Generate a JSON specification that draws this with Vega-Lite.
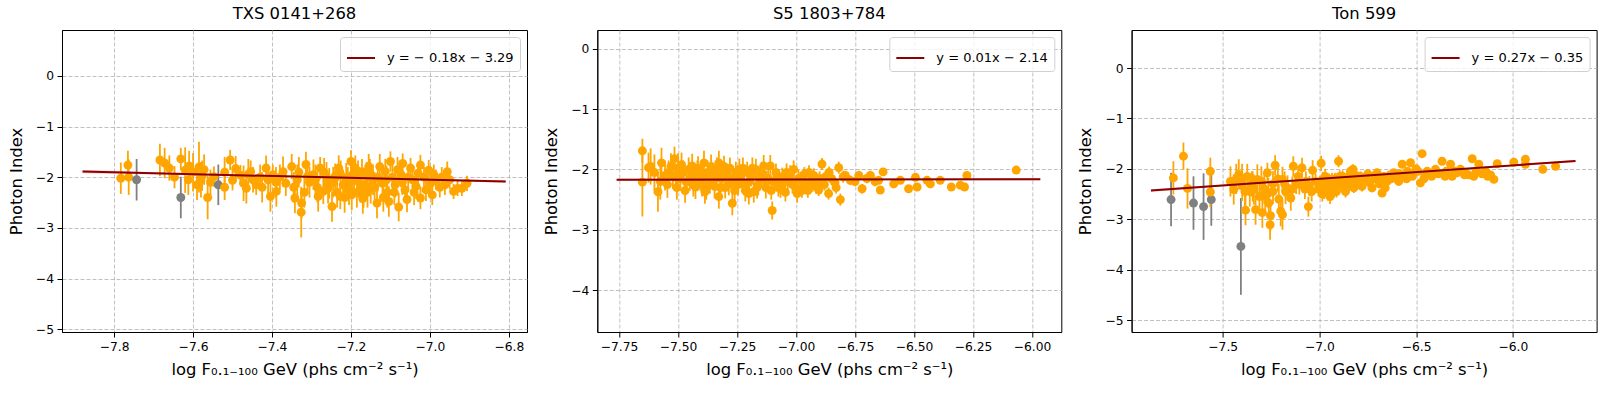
{
"$schema": "https://vega.github.io/schema/vega-lite/v6.json",
"padding": {"left": 7, "top": 5, "right": 5, "bottom": 5},
"background": "white",
"datasets": {
"p1": [
{"x":-7.783,"y":-2.02,"e":0.31,"g":"det"},{"x":-7.765,"y":-1.76,"e":0.28,"g":"det"},{"x":-7.763,"y":-2.0,"e":0.35,"g":"det"},{"x":-7.743,"y":-2.05,"e":0.41,"g":"low"},
{"x":-7.684,"y":-1.66,"e":0.32,"g":"det"},{"x":-7.672,"y":-1.72,"e":0.3,"g":"det"},{"x":-7.66,"y":-1.82,"e":0.25,"g":"det"},{"x":-7.647,"y":-2.0,"e":0.22,"g":"det"},
{"x":-7.631,"y":-1.64,"e":0.22,"g":"det"},{"x":-7.631,"y":-2.4,"e":0.41,"g":"low"},{"x":-7.62,"y":-1.86,"e":0.45,"g":"det"},{"x":-7.612,"y":-2.05,"e":0.3,"g":"det"},
{"x":-7.6,"y":-1.9,"e":0.38,"g":"det"},{"x":-7.59,"y":-2.15,"e":0.3,"g":"det"},{"x":-7.585,"y":-1.8,"e":0.5,"g":"det"},{"x":-7.577,"y":-1.97,"e":0.3,"g":"det"},
{"x":-7.572,"y":-1.85,"e":0.3,"g":"det"},{"x":-7.563,"y":-2.4,"e":0.43,"g":"det"},{"x":-7.556,"y":-2.1,"e":0.25,"g":"det"},{"x":-7.536,"y":-2.15,"e":0.4,"g":"low"},
{"x":-7.547,"y":-1.99,"e":0.2,"g":"det"},{"x":-7.52,"y":-2.2,"e":0.25,"g":"det"},{"x":-7.506,"y":-1.66,"e":0.2,"g":"det"},{"x":-7.5,"y":-2.06,"e":0.2,"g":"det"},
{"x":-7.492,"y":-1.83,"e":0.25,"g":"det"},{"x":-7.48,"y":-1.96,"e":0.2,"g":"det"},{"x":-7.472,"y":-2.12,"e":0.35,"g":"det"},{"x":-7.465,"y":-2.22,"e":0.3,"g":"det"},
{"x":-7.46,"y":-1.94,"e":0.3,"g":"det"},{"x":-7.454,"y":-1.89,"e":0.22,"g":"det"},{"x":-7.448,"y":-2.05,"e":0.25,"g":"det"},{"x":-7.44,"y":-2.15,"e":0.2,"g":"det"},
{"x":-7.415,"y":-1.82,"e":0.25,"g":"det"},{"x":-7.41,"y":-2.05,"e":0.3,"g":"det"},{"x":-7.404,"y":-2.38,"e":0.3,"g":"det"},{"x":-7.398,"y":-1.95,"e":0.2,"g":"det"},
{"x":-7.389,"y":-2.28,"e":0.3,"g":"det"},{"x":-7.38,"y":-2.0,"e":0.25,"g":"det"},{"x":-7.372,"y":-1.89,"e":0.3,"g":"det"},{"x":-7.365,"y":-2.12,"e":0.25,"g":"det"},
{"x":-7.35,"y":-1.79,"e":0.25,"g":"det"},{"x":-7.342,"y":-2.41,"e":0.3,"g":"det"},{"x":-7.336,"y":-2.05,"e":0.3,"g":"det"},{"x":-7.325,"y":-2.51,"e":0.3,"g":"det"},
{"x":-7.326,"y":-2.69,"e":0.5,"g":"det"},{"x":-7.314,"y":-1.75,"e":0.25,"g":"det"},{"x":-7.305,"y":-2.1,"e":0.3,"g":"det"},{"x":-7.295,"y":-1.95,"e":0.3,"g":"det"},
{"x":-7.285,"y":-2.2,"e":0.3,"g":"det"},{"x":-7.278,"y":-1.82,"e":0.22,"g":"det"},{"x":-7.27,"y":-2.28,"e":0.25,"g":"det"},{"x":-7.262,"y":-2.0,"e":0.3,"g":"det"},
{"x":-7.255,"y":-2.12,"e":0.3,"g":"det"},{"x":-7.248,"y":-2.58,"e":0.3,"g":"det"},{"x":-7.24,"y":-1.98,"e":0.25,"g":"det"},{"x":-7.231,"y":-1.82,"e":0.25,"g":"det"},
{"x":-7.227,"y":-2.38,"e":0.25,"g":"det"},{"x":-7.22,"y":-2.15,"e":0.3,"g":"det"},{"x":-7.212,"y":-2.02,"e":0.3,"g":"det"},{"x":-7.205,"y":-2.25,"e":0.3,"g":"det"},
{"x":-7.2,"y":-1.69,"e":0.22,"g":"det"},{"x":-7.196,"y":-1.95,"e":0.3,"g":"det"},{"x":-7.189,"y":-1.82,"e":0.25,"g":"det"},{"x":-7.185,"y":-2.3,"e":0.3,"g":"det"},
{"x":-7.18,"y":-2.1,"e":0.3,"g":"det"},{"x":-7.172,"y":-1.89,"e":0.25,"g":"det"},{"x":-7.168,"y":-2.35,"e":0.25,"g":"det"},{"x":-7.164,"y":-2.15,"e":0.3,"g":"det"},
{"x":-7.16,"y":-2.0,"e":0.3,"g":"det"},{"x":-7.155,"y":-1.79,"e":0.25,"g":"det"},{"x":-7.15,"y":-2.22,"e":0.3,"g":"det"},{"x":-7.144,"y":-2.05,"e":0.3,"g":"det"},
{"x":-7.134,"y":-2.51,"e":0.3,"g":"det"},{"x":-7.127,"y":-1.79,"e":0.25,"g":"det"},{"x":-7.12,"y":-2.12,"e":0.25,"g":"det"},{"x":-7.113,"y":-1.89,"e":0.25,"g":"det"},
{"x":-7.108,"y":-2.3,"e":0.3,"g":"det"},{"x":-7.104,"y":-2.48,"e":0.3,"g":"det"},{"x":-7.1,"y":-1.69,"e":0.2,"g":"det"},{"x":-7.095,"y":-2.0,"e":0.25,"g":"det"},
{"x":-7.088,"y":-2.15,"e":0.25,"g":"det"},{"x":-7.079,"y":-2.59,"e":0.28,"g":"det"},{"x":-7.073,"y":-1.95,"e":0.25,"g":"det"},{"x":-7.069,"y":-1.73,"e":0.2,"g":"det"},
{"x":-7.063,"y":-2.25,"e":0.25,"g":"det"},{"x":-7.058,"y":-2.44,"e":0.25,"g":"det"},{"x":-7.049,"y":-1.82,"e":0.2,"g":"det"},{"x":-7.044,"y":-2.05,"e":0.25,"g":"det"},
{"x":-7.035,"y":-2.18,"e":0.25,"g":"det"},{"x":-7.024,"y":-1.76,"e":0.2,"g":"det"},{"x":-7.024,"y":-2.41,"e":0.22,"g":"det"},{"x":-7.015,"y":-2.0,"e":0.2,"g":"det"},
{"x":-7.003,"y":-1.86,"e":0.2,"g":"det"},{"x":-6.998,"y":-2.12,"e":0.2,"g":"det"},{"x":-6.994,"y":-2.35,"e":0.2,"g":"det"},{"x":-6.985,"y":-2.05,"e":0.2,"g":"det"},
{"x":-6.975,"y":-2.2,"e":0.2,"g":"det"},{"x":-6.962,"y":-2.15,"e":0.2,"g":"det"},{"x":-6.956,"y":-1.89,"e":0.2,"g":"det"},{"x":-6.94,"y":-2.28,"e":0.15,"g":"det"},
{"x":-6.93,"y":-2.22,"e":0.15,"g":"det"},{"x":-6.919,"y":-2.22,"e":0.15,"g":"det"},{"x":-6.906,"y":-2.12,"e":0.15,"g":"det"},
{"x":-7.345,"y":-2.2,"e":0.3,"g":"det"},{"x":-7.332,"y":-1.9,"e":0.3,"g":"det"},{"x":-7.318,"y":-2.3,"e":0.3,"g":"det"},{"x":-7.31,"y":-1.98,"e":0.28,"g":"det"},
{"x":-7.29,"y":-2.05,"e":0.3,"g":"det"},{"x":-7.283,"y":-2.38,"e":0.3,"g":"det"},{"x":-7.268,"y":-1.9,"e":0.28,"g":"det"},{"x":-7.258,"y":-2.22,"e":0.3,"g":"det"},
{"x":-7.245,"y":-2.1,"e":0.3,"g":"det"},{"x":-7.235,"y":-2.3,"e":0.3,"g":"det"},{"x":-7.226,"y":-1.95,"e":0.28,"g":"det"},{"x":-7.216,"y":-2.4,"e":0.3,"g":"det"},
{"x":-7.208,"y":-2.1,"e":0.3,"g":"det"},{"x":-7.198,"y":-2.35,"e":0.3,"g":"det"},{"x":-7.192,"y":-2.05,"e":0.28,"g":"det"},{"x":-7.182,"y":-1.95,"e":0.28,"g":"det"},
{"x":-7.176,"y":-2.2,"e":0.3,"g":"det"},{"x":-7.17,"y":-2.42,"e":0.3,"g":"det"},{"x":-7.158,"y":-2.3,"e":0.3,"g":"det"},{"x":-7.152,"y":-1.92,"e":0.28,"g":"det"},
{"x":-7.14,"y":-2.2,"e":0.3,"g":"det"},{"x":-7.132,"y":-2.0,"e":0.28,"g":"det"},{"x":-7.118,"y":-2.4,"e":0.28,"g":"det"},{"x":-7.11,"y":-2.05,"e":0.28,"g":"det"},
{"x":-7.09,"y":-2.3,"e":0.25,"g":"det"},{"x":-7.082,"y":-1.85,"e":0.25,"g":"det"},{"x":-7.07,"y":-2.1,"e":0.25,"g":"det"},{"x":-7.055,"y":-2.0,"e":0.25,"g":"det"},
{"x":-7.04,"y":-2.3,"e":0.25,"g":"det"},{"x":-7.03,"y":-1.92,"e":0.22,"g":"det"},{"x":-7.01,"y":-2.25,"e":0.22,"g":"det"},{"x":-6.99,"y":-1.95,"e":0.2,"g":"det"},
{"x":-6.97,"y":-2.0,"e":0.2,"g":"det"},{"x":-6.95,"y":-2.05,"e":0.18,"g":"det"},{"x":-7.43,"y":-2.0,"e":0.25,"g":"det"},{"x":-7.425,"y":-2.2,"e":0.3,"g":"det"},
{"x":-7.39,"y":-2.1,"e":0.3,"g":"det"},{"x":-7.52,"y":-1.9,"e":0.3,"g":"det"},{"x":-7.58,"y":-2.05,"e":0.35,"g":"det"},{"x":-7.61,"y":-1.78,"e":0.3,"g":"det"}
],
"p2": [
{"x":-7.651,"y":-1.69,"e":0.2,"g":"det"},{"x":-7.651,"y":-2.21,"e":0.57,"g":"det"},{"x":-7.625,"y":-1.97,"e":0.25,"g":"det"},{"x":-7.616,"y":-1.95,"e":0.3,"g":"det"},
{"x":-7.6,"y":-2.05,"e":0.3,"g":"det"},{"x":-7.585,"y":-2.37,"e":0.33,"g":"det"},{"x":-7.575,"y":-2.2,"e":0.3,"g":"det"},{"x":-7.57,"y":-1.89,"e":0.25,"g":"det"},
{"x":-7.555,"y":-2.1,"e":0.25,"g":"det"},{"x":-7.54,"y":-2.05,"e":0.2,"g":"det"},{"x":-7.522,"y":-2.12,"e":0.2,"g":"det"},{"x":-7.515,"y":-1.82,"e":0.2,"g":"det"},
{"x":-7.51,"y":-2.1,"e":0.2,"g":"det"},{"x":-7.5,"y":-1.98,"e":0.25,"g":"det"},{"x":-7.49,"y":-2.15,"e":0.2,"g":"det"},{"x":-7.478,"y":-2.05,"e":0.2,"g":"det"},
{"x":-7.464,"y":-2.21,"e":0.2,"g":"det"},{"x":-7.455,"y":-2.0,"e":0.2,"g":"det"},{"x":-7.44,"y":-1.94,"e":0.2,"g":"det"},{"x":-7.432,"y":-2.12,"e":0.2,"g":"det"},
{"x":-7.426,"y":-2.29,"e":0.2,"g":"det"},{"x":-7.418,"y":-2.05,"e":0.2,"g":"det"},{"x":-7.405,"y":-2.15,"e":0.2,"g":"det"},{"x":-7.398,"y":-2.25,"e":0.2,"g":"det"},
{"x":-7.39,"y":-1.89,"e":0.2,"g":"det"},{"x":-7.386,"y":-2.37,"e":0.2,"g":"det"},{"x":-7.375,"y":-2.05,"e":0.2,"g":"det"},{"x":-7.365,"y":-2.2,"e":0.2,"g":"det"},
{"x":-7.355,"y":-2.1,"e":0.2,"g":"det"},{"x":-7.345,"y":-2.28,"e":0.2,"g":"det"},{"x":-7.335,"y":-2.0,"e":0.2,"g":"det"},{"x":-7.327,"y":-1.89,"e":0.2,"g":"det"},
{"x":-7.327,"y":-2.45,"e":0.2,"g":"det"},{"x":-7.318,"y":-2.15,"e":0.2,"g":"det"},{"x":-7.31,"y":-2.05,"e":0.18,"g":"det"},{"x":-7.3,"y":-2.3,"e":0.18,"g":"det"},
{"x":-7.29,"y":-2.1,"e":0.18,"g":"det"},{"x":-7.28,"y":-1.98,"e":0.18,"g":"det"},{"x":-7.27,"y":-2.56,"e":0.2,"g":"det"},{"x":-7.264,"y":-2.16,"e":0.18,"g":"det"},
{"x":-7.255,"y":-2.05,"e":0.18,"g":"det"},{"x":-7.245,"y":-2.25,"e":0.18,"g":"det"},{"x":-7.235,"y":-2.12,"e":0.18,"g":"det"},{"x":-7.225,"y":-1.98,"e":0.18,"g":"det"},
{"x":-7.215,"y":-2.35,"e":0.18,"g":"det"},{"x":-7.207,"y":-2.05,"e":0.18,"g":"det"},{"x":-7.198,"y":-2.2,"e":0.18,"g":"det"},{"x":-7.19,"y":-2.1,"e":0.18,"g":"det"},
{"x":-7.179,"y":-2.37,"e":0.18,"g":"det"},{"x":-7.17,"y":-2.0,"e":0.18,"g":"det"},{"x":-7.16,"y":-2.25,"e":0.18,"g":"det"},{"x":-7.15,"y":-2.12,"e":0.18,"g":"det"},
{"x":-7.137,"y":-1.94,"e":0.18,"g":"det"},{"x":-7.128,"y":-2.3,"e":0.18,"g":"det"},{"x":-7.118,"y":-2.15,"e":0.18,"g":"det"},{"x":-7.109,"y":-1.94,"e":0.18,"g":"det"},
{"x":-7.101,"y":-2.68,"e":0.15,"g":"det"},{"x":-7.095,"y":-2.2,"e":0.15,"g":"det"},{"x":-7.085,"y":-2.05,"e":0.15,"g":"det"},{"x":-7.075,"y":-2.3,"e":0.15,"g":"det"},
{"x":-7.066,"y":-2.32,"e":0.15,"g":"det"},{"x":-7.058,"y":-2.12,"e":0.15,"g":"det"},{"x":-7.045,"y":-2.38,"e":0.15,"g":"det"},{"x":-7.035,"y":-2.2,"e":0.15,"g":"det"},
{"x":-7.025,"y":-2.08,"e":0.15,"g":"det"},{"x":-7.01,"y":-2.0,"e":0.15,"g":"det"},{"x":-7.0,"y":-2.3,"e":0.15,"g":"det"},{"x":-6.99,"y":-2.15,"e":0.15,"g":"det"},
{"x":-6.982,"y":-2.16,"e":0.12,"g":"det"},{"x":-6.975,"y":-2.35,"e":0.12,"g":"det"},{"x":-6.965,"y":-2.08,"e":0.12,"g":"det"},{"x":-6.955,"y":-2.25,"e":0.12,"g":"det"},
{"x":-6.945,"y":-2.05,"e":0.12,"g":"det"},{"x":-6.935,"y":-2.18,"e":0.12,"g":"det"},{"x":-6.925,"y":-2.1,"e":0.12,"g":"det"},{"x":-6.915,"y":-2.28,"e":0.12,"g":"det"},
{"x":-6.904,"y":-2.21,"e":0.12,"g":"det"},{"x":-6.89,"y":-1.91,"e":0.1,"g":"det"},{"x":-6.904,"y":-2.34,"e":0.1,"g":"det"},{"x":-6.875,"y":-2.12,"e":0.1,"g":"det"},
{"x":-6.862,"y":-2.4,"e":0.1,"g":"det"},{"x":-6.85,"y":-2.15,"e":0.1,"g":"det"},{"x":-6.835,"y":-2.22,"e":0.1,"g":"det"},{"x":-6.819,"y":-1.97,"e":0.1,"g":"det"},
{"x":-6.812,"y":-2.5,"e":0.1,"g":"det"},{"x":-6.8,"y":-2.12,"e":0.1,"g":"det"},{"x":-6.791,"y":-2.1,"e":0.08,"g":"det"},{"x":-6.77,"y":-2.18,"e":0.08,"g":"det"},
{"x":-6.75,"y":-2.2,"e":0.08,"g":"det"},{"x":-6.734,"y":-2.1,"e":0.08,"g":"det"},{"x":-6.72,"y":-2.32,"e":0.08,"g":"det"},{"x":-6.7,"y":-2.15,"e":0.08,"g":"det"},
{"x":-6.685,"y":-2.1,"e":0.08,"g":"det"},{"x":-6.665,"y":-2.2,"e":0.08,"g":"det"},{"x":-6.65,"y":-2.18,"e":0.06,"g":"det"},{"x":-6.643,"y":-2.34,"e":0.06,"g":"det"},
{"x":-6.631,"y":-2.04,"e":0.06,"g":"det"},{"x":-6.586,"y":-2.24,"e":0.06,"g":"det"},{"x":-6.558,"y":-2.18,"e":0.06,"g":"det"},{"x":-6.523,"y":-2.32,"e":0.06,"g":"det"},
{"x":-6.494,"y":-2.13,"e":0.06,"g":"det"},{"x":-6.487,"y":-2.29,"e":0.06,"g":"det"},{"x":-6.445,"y":-2.18,"e":0.05,"g":"det"},{"x":-6.431,"y":-2.24,"e":0.05,"g":"det"},
{"x":-6.389,"y":-2.18,"e":0.05,"g":"det"},{"x":-6.342,"y":-2.29,"e":0.05,"g":"det"},{"x":-6.304,"y":-2.26,"e":0.05,"g":"det"},{"x":-6.286,"y":-2.29,"e":0.05,"g":"det"},
{"x":-6.276,"y":-2.1,"e":0.05,"g":"det"},{"x":-6.067,"y":-2.01,"e":0.04,"g":"det"},
{"x":-7.545,"y":-2.25,"e":0.22,"g":"det"},{"x":-7.53,"y":-1.95,"e":0.22,"g":"det"},{"x":-7.505,"y":-2.3,"e":0.2,"g":"det"},{"x":-7.485,"y":-1.92,"e":0.2,"g":"det"},
{"x":-7.47,"y":-2.35,"e":0.2,"g":"det"},{"x":-7.45,"y":-2.15,"e":0.2,"g":"det"},{"x":-7.435,"y":-2.25,"e":0.2,"g":"det"},{"x":-7.415,"y":-1.98,"e":0.2,"g":"det"},
{"x":-7.395,"y":-2.1,"e":0.2,"g":"det"},{"x":-7.38,"y":-2.3,"e":0.2,"g":"det"},{"x":-7.36,"y":-1.95,"e":0.2,"g":"det"},{"x":-7.34,"y":-2.15,"e":0.2,"g":"det"},
{"x":-7.32,"y":-2.3,"e":0.2,"g":"det"},{"x":-7.305,"y":-1.95,"e":0.18,"g":"det"},{"x":-7.285,"y":-2.25,"e":0.18,"g":"det"},{"x":-7.26,"y":-2.35,"e":0.18,"g":"det"},
{"x":-7.24,"y":-2.0,"e":0.18,"g":"det"},{"x":-7.22,"y":-2.25,"e":0.18,"g":"det"},{"x":-7.2,"y":-2.4,"e":0.18,"g":"det"},{"x":-7.185,"y":-1.98,"e":0.18,"g":"det"},
{"x":-7.165,"y":-2.3,"e":0.18,"g":"det"},{"x":-7.145,"y":-2.05,"e":0.18,"g":"det"},{"x":-7.125,"y":-2.2,"e":0.18,"g":"det"},{"x":-7.105,"y":-2.35,"e":0.15,"g":"det"},
{"x":-7.08,"y":-2.15,"e":0.15,"g":"det"},{"x":-7.06,"y":-2.25,"e":0.15,"g":"det"},{"x":-7.04,"y":-2.05,"e":0.15,"g":"det"},{"x":-7.015,"y":-2.25,"e":0.15,"g":"det"},
{"x":-6.995,"y":-2.4,"e":0.15,"g":"det"},{"x":-6.97,"y":-2.2,"e":0.12,"g":"det"},{"x":-6.95,"y":-2.35,"e":0.12,"g":"det"},{"x":-6.93,"y":-2.25,"e":0.12,"g":"det"},
{"x":-6.9,"y":-2.15,"e":0.12,"g":"det"},{"x":-6.88,"y":-2.25,"e":0.1,"g":"det"},{"x":-6.86,"y":-2.05,"e":0.1,"g":"det"},{"x":-6.83,"y":-2.3,"e":0.1,"g":"det"}
],
"p3": [
{"x":-7.767,"y":-2.61,"e":0.53,"g":"low"},{"x":-7.651,"y":-2.68,"e":0.53,"g":"low"},{"x":-7.599,"y":-2.75,"e":0.66,"g":"low"},{"x":-7.559,"y":-2.61,"e":0.52,"g":"low"},{"x":-7.406,"y":-3.54,"e":0.96,"g":"low"},
{"x":-7.755,"y":-2.18,"e":0.33,"g":"det"},{"x":-7.703,"y":-1.75,"e":0.27,"g":"det"},{"x":-7.682,"y":-2.39,"e":0.4,"g":"det"},{"x":-7.564,"y":-2.05,"e":0.27,"g":"det"},
{"x":-7.564,"y":-2.46,"e":0.3,"g":"det"},{"x":-7.443,"y":-2.41,"e":0.3,"g":"det"},{"x":-7.43,"y":-2.2,"e":0.3,"g":"det"},{"x":-7.417,"y":-2.11,"e":0.3,"g":"det"},
{"x":-7.399,"y":-2.34,"e":0.3,"g":"det"},{"x":-7.382,"y":-2.82,"e":0.3,"g":"det"},{"x":-7.373,"y":-2.15,"e":0.25,"g":"det"},{"x":-7.36,"y":-2.45,"e":0.3,"g":"det"},
{"x":-7.35,"y":-2.3,"e":0.25,"g":"det"},{"x":-7.339,"y":-2.41,"e":0.3,"g":"det"},{"x":-7.33,"y":-2.81,"e":0.3,"g":"det"},{"x":-7.321,"y":-2.21,"e":0.3,"g":"det"},
{"x":-7.31,"y":-2.55,"e":0.3,"g":"det"},{"x":-7.295,"y":-2.87,"e":0.3,"g":"det"},{"x":-7.285,"y":-2.4,"e":0.3,"g":"det"},{"x":-7.269,"y":-2.08,"e":0.2,"g":"det"},
{"x":-7.264,"y":-2.48,"e":0.3,"g":"det"},{"x":-7.262,"y":-2.68,"e":0.3,"g":"det"},{"x":-7.253,"y":-2.93,"e":0.3,"g":"det"},{"x":-7.255,"y":-3.11,"e":0.3,"g":"det"},
{"x":-7.24,"y":-2.3,"e":0.25,"g":"det"},{"x":-7.229,"y":-1.93,"e":0.2,"g":"det"},{"x":-7.215,"y":-2.2,"e":0.25,"g":"det"},{"x":-7.2,"y":-2.84,"e":0.3,"g":"det"},
{"x":-7.191,"y":-2.91,"e":0.3,"g":"det"},{"x":-7.191,"y":-2.21,"e":0.25,"g":"det"},{"x":-7.175,"y":-2.45,"e":0.25,"g":"det"},{"x":-7.165,"y":-2.38,"e":0.25,"g":"det"},
{"x":-7.148,"y":-2.58,"e":0.25,"g":"det"},{"x":-7.135,"y":-1.95,"e":0.2,"g":"det"},{"x":-7.12,"y":-2.3,"e":0.2,"g":"det"},{"x":-7.104,"y":-2.31,"e":0.2,"g":"det"},
{"x":-7.09,"y":-1.98,"e":0.2,"g":"det"},{"x":-7.075,"y":-2.4,"e":0.2,"g":"det"},{"x":-7.057,"y":-2.75,"e":0.2,"g":"det"},{"x":-7.052,"y":-2.34,"e":0.2,"g":"det"},
{"x":-7.035,"y":-2.03,"e":0.2,"g":"det"},{"x":-7.02,"y":-2.25,"e":0.15,"g":"det"},{"x":-7.005,"y":-2.4,"e":0.15,"g":"det"},{"x":-6.991,"y":-1.89,"e":0.15,"g":"det"},
{"x":-6.983,"y":-2.21,"e":0.15,"g":"det"},{"x":-6.975,"y":-2.45,"e":0.15,"g":"det"},{"x":-6.965,"y":-2.3,"e":0.15,"g":"det"},{"x":-6.957,"y":-2.48,"e":0.15,"g":"det"},
{"x":-6.95,"y":-2.25,"e":0.15,"g":"det"},{"x":-6.942,"y":-2.4,"e":0.15,"g":"det"},{"x":-6.931,"y":-2.34,"e":0.12,"g":"det"},{"x":-6.92,"y":-2.2,"e":0.12,"g":"det"},
{"x":-6.912,"y":-2.45,"e":0.12,"g":"det"},{"x":-6.901,"y":-1.85,"e":0.12,"g":"det"},{"x":-6.89,"y":-2.3,"e":0.12,"g":"det"},{"x":-6.88,"y":-2.15,"e":0.12,"g":"det"},
{"x":-6.87,"y":-2.4,"e":0.12,"g":"det"},{"x":-6.861,"y":-2.21,"e":0.12,"g":"det"},{"x":-6.85,"y":-2.35,"e":0.1,"g":"det"},{"x":-6.84,"y":-2.05,"e":0.1,"g":"det"},
{"x":-6.826,"y":-2.01,"e":0.1,"g":"det"},{"x":-6.831,"y":-2.08,"e":0.1,"g":"det"},{"x":-6.822,"y":-2.38,"e":0.1,"g":"det"},{"x":-6.81,"y":-2.2,"e":0.1,"g":"det"},
{"x":-6.8,"y":-2.3,"e":0.1,"g":"det"},{"x":-6.788,"y":-2.15,"e":0.1,"g":"det"},{"x":-6.77,"y":-2.25,"e":0.1,"g":"det"},{"x":-6.75,"y":-2.1,"e":0.08,"g":"det"},
{"x":-6.728,"y":-2.38,"e":0.08,"g":"det"},{"x":-6.715,"y":-2.2,"e":0.08,"g":"det"},{"x":-6.702,"y":-2.08,"e":0.08,"g":"det"},{"x":-6.69,"y":-2.3,"e":0.08,"g":"det"},
{"x":-6.676,"y":-2.48,"e":0.08,"g":"det"},{"x":-6.667,"y":-2.15,"e":0.08,"g":"det"},{"x":-6.65,"y":-2.25,"e":0.08,"g":"det"},{"x":-6.635,"y":-2.12,"e":0.07,"g":"det"},
{"x":-6.616,"y":-2.08,"e":0.07,"g":"det"},{"x":-6.6,"y":-2.2,"e":0.07,"g":"det"},{"x":-6.585,"y":-2.1,"e":0.07,"g":"det"},{"x":-6.572,"y":-1.91,"e":0.07,"g":"det"},
{"x":-6.56,"y":-2.15,"e":0.07,"g":"det"},{"x":-6.545,"y":-2.05,"e":0.06,"g":"det"},{"x":-6.529,"y":-1.88,"e":0.06,"g":"det"},{"x":-6.515,"y":-2.1,"e":0.06,"g":"det"},
{"x":-6.5,"y":-2.0,"e":0.06,"g":"det"},{"x":-6.478,"y":-2.28,"e":0.06,"g":"det"},{"x":-6.469,"y":-1.7,"e":0.06,"g":"det"},{"x":-6.455,"y":-2.15,"e":0.06,"g":"det"},
{"x":-6.443,"y":-2.05,"e":0.06,"g":"det"},{"x":-6.42,"y":-2.15,"e":0.05,"g":"det"},{"x":-6.4,"y":-2.01,"e":0.05,"g":"det"},{"x":-6.385,"y":-2.1,"e":0.05,"g":"det"},
{"x":-6.366,"y":-1.85,"e":0.05,"g":"det"},{"x":-6.345,"y":-2.05,"e":0.05,"g":"det"},{"x":-6.322,"y":-1.91,"e":0.05,"g":"det"},{"x":-6.314,"y":-2.15,"e":0.05,"g":"det"},
{"x":-6.29,"y":-2.08,"e":0.05,"g":"det"},{"x":-6.271,"y":-2.01,"e":0.05,"g":"det"},{"x":-6.245,"y":-2.08,"e":0.05,"g":"det"},{"x":-6.23,"y":-2.12,"e":0.05,"g":"det"},
{"x":-6.21,"y":-1.8,"e":0.05,"g":"det"},{"x":-6.202,"y":-2.15,"e":0.05,"g":"det"},{"x":-6.176,"y":-1.91,"e":0.05,"g":"det"},{"x":-6.16,"y":-2.1,"e":0.04,"g":"det"},
{"x":-6.141,"y":-2.05,"e":0.04,"g":"det"},{"x":-6.115,"y":-2.12,"e":0.04,"g":"det"},{"x":-6.098,"y":-2.21,"e":0.04,"g":"det"},{"x":-6.081,"y":-1.9,"e":0.04,"g":"det"},
{"x":-5.995,"y":-1.87,"e":0.04,"g":"det"},{"x":-5.935,"y":-1.81,"e":0.04,"g":"det"},{"x":-5.935,"y":-1.91,"e":0.04,"g":"det"},{"x":-5.845,"y":-2.01,"e":0.04,"g":"det"},
{"x":-5.779,"y":-1.95,"e":0.04,"g":"det"},
{"x":-6.995,"y":-2.3,"e":0.15,"g":"det"},{"x":-6.985,"y":-2.5,"e":0.15,"g":"det"},{"x":-6.97,"y":-2.15,"e":0.15,"g":"det"},{"x":-6.96,"y":-2.38,"e":0.15,"g":"det"},
{"x":-6.945,"y":-2.55,"e":0.15,"g":"det"},{"x":-6.935,"y":-2.2,"e":0.12,"g":"det"},{"x":-6.925,"y":-2.45,"e":0.12,"g":"det"},{"x":-6.905,"y":-2.3,"e":0.12,"g":"det"},
{"x":-6.895,"y":-2.15,"e":0.12,"g":"det"},{"x":-6.875,"y":-2.25,"e":0.12,"g":"det"},{"x":-6.865,"y":-2.45,"e":0.12,"g":"det"},{"x":-6.845,"y":-2.15,"e":0.1,"g":"det"},
{"x":-6.835,"y":-2.3,"e":0.1,"g":"det"},{"x":-6.815,"y":-2.12,"e":0.1,"g":"det"},{"x":-6.795,"y":-2.2,"e":0.1,"g":"det"},{"x":-6.78,"y":-2.35,"e":0.1,"g":"det"},
{"x":-6.76,"y":-2.2,"e":0.1,"g":"det"},{"x":-6.74,"y":-2.28,"e":0.08,"g":"det"},{"x":-6.71,"y":-2.12,"e":0.08,"g":"det"},{"x":-6.685,"y":-2.2,"e":0.08,"g":"det"},
{"x":-6.66,"y":-2.38,"e":0.08,"g":"det"},{"x":-6.63,"y":-2.2,"e":0.07,"g":"det"},{"x":-6.61,"y":-2.15,"e":0.07,"g":"det"},{"x":-6.59,"y":-2.25,"e":0.07,"g":"det"},
{"x":-6.55,"y":-2.2,"e":0.07,"g":"det"},{"x":-6.52,"y":-2.15,"e":0.06,"g":"det"},{"x":-6.49,"y":-2.05,"e":0.06,"g":"det"},{"x":-6.46,"y":-2.2,"e":0.06,"g":"det"},
{"x":-6.43,"y":-2.1,"e":0.06,"g":"det"},{"x":-6.35,"y":-2.15,"e":0.05,"g":"det"},{"x":-6.3,"y":-2.05,"e":0.05,"g":"det"},{"x":-6.25,"y":-2.12,"e":0.05,"g":"det"},
{"x":-6.19,"y":-2.05,"e":0.05,"g":"det"},{"x":-6.13,"y":-2.15,"e":0.05,"g":"det"},{"x":-7.46,"y":-2.25,"e":0.3,"g":"det"},{"x":-7.4,"y":-2.2,"e":0.3,"g":"det"},
{"x":-7.385,"y":-2.45,"e":0.3,"g":"det"},{"x":-7.345,"y":-2.35,"e":0.3,"g":"det"},{"x":-7.3,"y":-2.25,"e":0.3,"g":"det"},{"x":-7.28,"y":-2.55,"e":0.3,"g":"det"},
{"x":-7.24,"y":-2.45,"e":0.25,"g":"det"},{"x":-7.21,"y":-2.6,"e":0.3,"g":"det"},{"x":-7.18,"y":-2.3,"e":0.25,"g":"det"},{"x":-7.14,"y":-2.4,"e":0.25,"g":"det"},
{"x":-7.11,"y":-2.15,"e":0.2,"g":"det"},{"x":-7.07,"y":-2.25,"e":0.2,"g":"det"},{"x":-7.04,"y":-2.45,"e":0.2,"g":"det"}
],
"b1": [{"x":-7.88,"y":-1.922,"yhi":-1.856},{"x":-7.6,"y":-1.958,"yhi":-1.922},{"x":-7.34,"y":-1.996,"yhi":-1.98},{"x":-7.1,"y":-2.045,"yhi":-2.019},{"x":-6.808,"y":-2.11,"yhi":-2.06}],
"b2": [{"x":-7.76,"y":-2.19,"yhi":-2.152},{"x":-6.9,"y":-2.173,"yhi":-2.161},{"x":-5.965,"y":-2.18,"yhi":-2.142}],
"b3": [{"x":-7.871,"y":-2.455,"yhi":-2.405},{"x":-7.2,"y":-2.262,"yhi":-2.241},{"x":-6.6,"y":-2.1,"yhi":-2.084},{"x":-5.676,"y":-1.865,"yhi":-1.827}],
"l1": [{"x":-7.88,"y":-1.889,"label":"y = − 0.18x − 3.29"},{"x":-6.808,"y":-2.085,"label":"y = − 0.18x − 3.29"}],
"l2": [{"x":-7.76,"y":-2.171,"label":"y = 0.01x − 2.14"},{"x":-5.965,"y":-2.161,"label":"y = 0.01x − 2.14"}],
"l3": [{"x":-7.871,"y":-2.43,"label":"y = 0.27x − 0.35"},{"x":-5.676,"y":-1.846,"label":"y = 0.27x − 0.35"}]
},
"hconcat": [
{
"width": 465, "height": 302,
"title": "TXS 0141+268",
"encoding": {
"x": {"field": "x", "type": "quantitative", "scale": {"domain": [-7.932, -6.754], "nice": false, "zero": false}, "axis": {"values": [-7.8, -7.6, -7.4, -7.2, -7.0, -6.8], "format": ".1f", "title": "log F₀.₁₋₁₀₀ GeV (phs cm⁻² s⁻¹)"}},
"y": {"field": "y", "type": "quantitative", "scale": {"domain": [-5.055, 0.905], "nice": false, "zero": false}, "axis": {"values": [-5, -4, -3, -2, -1, 0], "format": "d", "title": "Photon Index"}}
},
"layer": [
{"data": {"name": "p1"}, "mark": {"type": "errorbar", "thickness": 1.8}, "encoding": {"yError": {"field": "e"}, "color": {"field": "g", "type": "nominal", "scale": {"domain": ["det", "low"], "range": ["#FFA500", "#808080"]}, "legend": null}}},
{"data": {"name": "p1"}, "mark": {"type": "circle", "size": 80, "opacity": 1}, "encoding": {"color": {"field": "g", "type": "nominal", "scale": {"domain": ["det", "low"], "range": ["#FFA500", "#808080"]}, "legend": null}}},
{"data": {"name": "b1"}, "mark": {"type": "area", "color": "red", "opacity": 0.25}, "encoding": {"y2": {"field": "yhi"}}},
{"data": {"name": "l1"}, "mark": {"type": "line", "strokeWidth": 2}, "encoding": {"stroke": {"field": "label", "type": "nominal", "scale": {"range": ["#8B0000"]}, "legend": {"title": null}}}}
]
},
{
"width": 464, "height": 302,
"title": "S5 1803+784",
"encoding": {
"x": {"field": "x", "type": "quantitative", "scale": {"domain": [-7.842, -5.876], "nice": false, "zero": false}, "axis": {"values": [-7.75, -7.5, -7.25, -7.0, -6.75, -6.5, -6.25, -6.0], "format": ".2f", "title": "log F₀.₁₋₁₀₀ GeV (phs cm⁻² s⁻¹)"}},
"y": {"field": "y", "type": "quantitative", "scale": {"domain": [-4.697, 0.315], "nice": false, "zero": false}, "axis": {"values": [-4, -3, -2, -1, 0], "format": "d", "title": "Photon Index"}}
},
"layer": [
{"data": {"name": "p2"}, "mark": {"type": "errorbar", "thickness": 1.8}, "encoding": {"yError": {"field": "e"}, "color": {"field": "g", "type": "nominal", "scale": {"domain": ["det", "low"], "range": ["#FFA500", "#808080"]}, "legend": null}}},
{"data": {"name": "p2"}, "mark": {"type": "circle", "size": 80, "opacity": 1}, "encoding": {"color": {"field": "g", "type": "nominal", "scale": {"domain": ["det", "low"], "range": ["#FFA500", "#808080"]}, "legend": null}}},
{"data": {"name": "b2"}, "mark": {"type": "area", "color": "red", "opacity": 0.25}, "encoding": {"y2": {"field": "yhi"}}},
{"data": {"name": "l2"}, "mark": {"type": "line", "strokeWidth": 2}, "encoding": {"stroke": {"field": "label", "type": "nominal", "scale": {"range": ["#8B0000"]}, "legend": {"title": null}}}}
]
},
{
"width": 465, "height": 302,
"title": "Ton 599",
"encoding": {
"x": {"field": "x", "type": "quantitative", "scale": {"domain": [-7.971, -5.567], "nice": false, "zero": false}, "axis": {"values": [-7.5, -7.0, -6.5, -6.0], "format": ".1f", "title": "log F₀.₁₋₁₀₀ GeV (phs cm⁻² s⁻¹)"}},
"y": {"field": "y", "type": "quantitative", "scale": {"domain": [-5.238, 0.754], "nice": false, "zero": false}, "axis": {"values": [-5, -4, -3, -2, -1, 0], "format": "d", "title": "Photon Index"}}
},
"layer": [
{"data": {"name": "p3"}, "mark": {"type": "errorbar", "thickness": 1.8}, "encoding": {"yError": {"field": "e"}, "color": {"field": "g", "type": "nominal", "scale": {"domain": ["det", "low"], "range": ["#FFA500", "#808080"]}, "legend": null}}},
{"data": {"name": "p3"}, "mark": {"type": "circle", "size": 80, "opacity": 1}, "encoding": {"color": {"field": "g", "type": "nominal", "scale": {"domain": ["det", "low"], "range": ["#FFA500", "#808080"]}, "legend": null}}},
{"data": {"name": "b3"}, "mark": {"type": "area", "color": "red", "opacity": 0.25}, "encoding": {"y2": {"field": "yhi"}}},
{"data": {"name": "l3"}, "mark": {"type": "line", "strokeWidth": 2}, "encoding": {"stroke": {"field": "label", "type": "nominal", "scale": {"range": ["#8B0000"]}, "legend": {"title": null}}}}
]
}
],
"spacing": 70.3,
"bounds": "flush",
"resolve": {"scale": {"stroke": "independent", "color": "independent", "x": "independent", "y": "independent"}, "legend": {"stroke": "independent"}},
"config": {
"font": "DejaVu Sans",
"view": {"stroke": "black", "strokeWidth": 1},
"axis": {"labelFont": "DejaVu Sans", "labelFontSize": 12.3, "labelColor": "black", "titleFont": "DejaVu Sans", "titleFontSize": 16.4, "titleFontWeight": "normal", "titleColor": "black", "tickColor": "black", "tickSize": 5, "domainColor": "black", "gridColor": "#b0b0b0", "gridDash": [4, 2], "gridWidth": 0.8, "labelPadding": 3.5, "labelFlush": false, "labelOverlap": false},
"axisY": {"titlePadding": 11},
"axisX": {"titlePadding": 9},
"title": {"font": "DejaVu Sans", "fontSize": 16.4, "fontWeight": "normal", "color": "black", "offset": 8},
"legend": {"orient": "top-right", "offset": 7, "symbolType": "stroke", "symbolStrokeWidth": 2, "symbolSize": 784, "labelFont": "DejaVu Sans", "labelFontSize": 13, "labelColor": "black", "labelOffset": 11, "strokeColor": "#d0d0d0", "fillColor": "rgba(255,255,255,0.8)", "cornerRadius": 3, "padding": 6}
}
}
